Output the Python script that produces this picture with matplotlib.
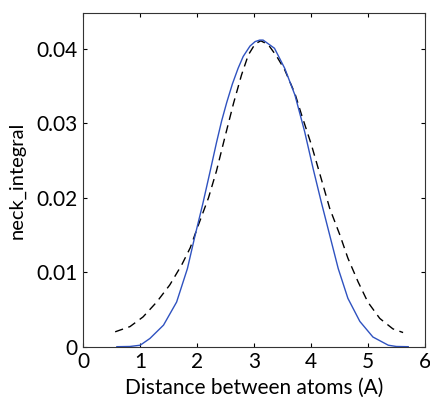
import matplotlib
matplotlib.use("Agg")
import matplotlib.pyplot as plt

# blue solid curve
blue_x = [0.59, 0.82, 1.00, 1.17, 1.41, 1.64, 1.83, 1.96, 2.10, 2.23, 2.34, 2.43, 2.52,
          2.62, 2.72, 2.81, 2.93, 3.02, 3.10, 3.16, 3.36, 3.54, 3.72, 3.89, 4.04, 4.18,
          4.33, 4.48, 4.65, 4.86, 5.09, 5.36, 5.50, 5.71]
blue_y = [0.0, 0.00003, 0.0002, 0.0011, 0.0029, 0.0060, 0.0105, 0.0148, 0.0192, 0.0236,
          0.0274, 0.0303, 0.0328, 0.0353, 0.0374, 0.0390, 0.0404, 0.0410, 0.0412, 0.0412,
          0.0401, 0.0374, 0.0338, 0.0289, 0.0239, 0.0195, 0.0150, 0.0105, 0.0065, 0.0034,
          0.0013, 0.0002, 0.00003, 0.0]

# black dashed curve
dash_x = [0.56, 0.82, 1.05, 1.29, 1.52, 1.73, 1.88, 2.02, 2.20, 2.34, 2.49, 2.64, 2.78,
          2.90, 3.02, 3.12, 3.25, 3.40, 3.54, 3.72, 3.83, 4.01, 4.18, 4.33, 4.51, 4.65,
          4.83, 5.00, 5.21, 5.44, 5.62]
dash_y = [0.0020, 0.0027, 0.0040, 0.0060, 0.0083, 0.0110, 0.0133, 0.0163, 0.0200, 0.0236,
          0.0282, 0.0327, 0.0365, 0.0392, 0.0407, 0.0411, 0.0406, 0.0390, 0.0372, 0.0340,
          0.0313, 0.0271, 0.0226, 0.0186, 0.0150, 0.0119, 0.0087, 0.0060, 0.0038, 0.0024,
          0.0019]

xticks = [0, 1, 2, 3, 4, 5, 6]
yticks = [0, 0.01, 0.02, 0.03, 0.04]
ytick_labels = ["0", "0.01", "0.02", "0.03", "0.04"]

plt.rcParams['font.family'] = ['Lato', 'DejaVu Sans']

fig = plt.figure(figsize=(4.3, 3.98), dpi=100)
ax = fig.add_axes([0.1937, 0.1289, 0.794, 0.8377])

ax.plot(dash_x, dash_y, color='black', linestyle=(0, (6, 4)), linewidth=1.0)
ax.plot(blue_x, blue_y, color='#2f52c0', linewidth=1.0)

ax.set_xlim(0, 6)
ax.set_ylim(0, 0.0448)
ax.set_xticks(xticks)
ax.set_yticks(yticks)
ax.set_yticklabels(ytick_labels)
ax.tick_params(direction='in', length=3, top=True, right=True, labelsize=15, pad=4)
for s in ax.spines.values():
    s.set_color('#333333')
    s.set_linewidth(0.8)

ax.set_xlabel("Distance between atoms (A)", fontsize=15, labelpad=4)
ax.set_ylabel("neck_integral", fontsize=14.5, labelpad=8)

fig.savefig("out.png", dpi=100)
